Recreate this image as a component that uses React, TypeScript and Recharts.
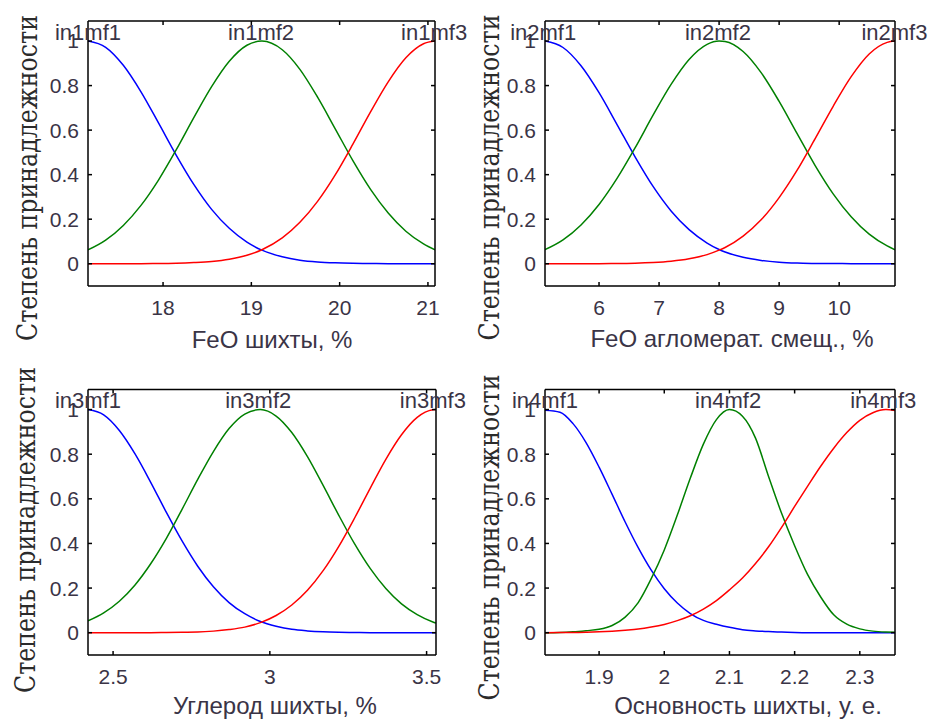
import React from "react";
import { LineChart, Line, XAxis, YAxis, ReferenceDot, Label } from "recharts";

const yTicks = [0, 0.2, 0.4, 0.6, 0.8, 1];
const yTitle = "Степень принадлежности";

// FeO шихты
const x1 = [17.15, 17.35, 17.55, 17.75, 17.95, 18.15, 18.35, 18.55, 18.75, 18.95, 19.12, 19.35, 19.55, 19.75, 19.95, 20.15, 20.35, 20.55, 20.75, 20.95, 21.08];
const in1mf1 = [1, 0.972, 0.891, 0.772, 0.631, 0.487, 0.355, 0.244, 0.159, 0.097, 0.061, 0.031, 0.016, 0.008, 0.004, 0.002, 0.001, 0, 0, 0, 0];
const in1mf2 = [0.062, 0.106, 0.172, 0.262, 0.377, 0.512, 0.657, 0.795, 0.909, 0.981, 1, 0.961, 0.873, 0.748, 0.606, 0.463, 0.334, 0.228, 0.146, 0.089, 0.062];
const in1mf3 = [0, 0, 0, 0, 0.001, 0.002, 0.005, 0.01, 0.02, 0.038, 0.063, 0.116, 0.186, 0.28, 0.399, 0.537, 0.682, 0.817, 0.925, 0.988, 1];
const ticks1 = [18, 19, 20, 21];
const names1 = ["in1mf1", "in1mf2", "in1mf3"];
const peaks1 = [17.15, 19.11, 21.07];

// FeO агломерат
const x2 = [5.1, 5.4, 5.7, 6.0, 6.3, 6.6, 6.9, 7.2, 7.5, 7.8, 8.0, 8.1, 8.4, 8.7, 9.0, 9.3, 9.6, 9.9, 10.2, 10.5, 10.8, 10.93];
const in2mf1 = [1, 0.971, 0.889, 0.768, 0.625, 0.48, 0.347, 0.237, 0.153, 0.093, 0.064, 0.053, 0.029, 0.015, 0.007, 0.003, 0.001, 0.001, 0, 0, 0, 0];
const in2mf2 = [0.063, 0.107, 0.174, 0.266, 0.383, 0.52, 0.667, 0.805, 0.917, 0.985, 1, 0.998, 0.953, 0.858, 0.729, 0.584, 0.441, 0.314, 0.211, 0.133, 0.08, 0.063];
const in2mf3 = [0, 0, 0, 0, 0.001, 0.002, 0.005, 0.011, 0.022, 0.041, 0.061, 0.073, 0.124, 0.197, 0.297, 0.42, 0.562, 0.707, 0.84, 0.942, 0.994, 1];
const ticks2 = [6, 7, 8, 9, 10];
const names2 = ["in2mf1", "in2mf2", "in2mf3"];
const peaks2 = [5.07, 7.98, 10.92];

// Углерод шихты
const x3 = [2.42, 2.47, 2.52, 2.57, 2.62, 2.67, 2.72, 2.77, 2.82, 2.87, 2.92, 2.97, 3.02, 3.07, 3.12, 3.17, 3.22, 3.27, 3.32, 3.37, 3.42, 3.47, 3.52, 3.53];
const in3mf1 = [1, 0.976, 0.906, 0.801, 0.674, 0.539, 0.411, 0.298, 0.206, 0.135, 0.085, 0.05, 0.029, 0.015, 0.008, 0.004, 0.002, 0.001, 0, 0, 0, 0, 0, 0];
const in3mf2 = [0.053, 0.089, 0.141, 0.214, 0.309, 0.423, 0.553, 0.687, 0.812, 0.915, 0.98, 1, 0.971, 0.897, 0.789, 0.66, 0.526, 0.399, 0.288, 0.198, 0.129, 0.081, 0.048, 0.043];
const in3mf3 = [0, 0, 0, 0, 0, 0.001, 0.002, 0.003, 0.007, 0.014, 0.025, 0.045, 0.077, 0.124, 0.19, 0.278, 0.387, 0.513, 0.647, 0.777, 0.887, 0.965, 0.999, 1];
const ticks3 = [2.5, 3, 3.5];
const names3 = ["in3mf1", "in3mf2", "in3mf3"];
const peaks3 = [2.42, 2.963, 3.52];

// Основность шихты
const x4 = [1.817, 1.84, 1.86, 1.88, 1.9, 1.92, 1.94, 1.96, 1.98, 2.0, 2.02, 2.04, 2.06, 2.08, 2.1, 2.12, 2.14, 2.16, 2.18, 2.2, 2.22, 2.24, 2.26, 2.28, 2.3, 2.32, 2.34, 2.354];
const in4mf1 = [0.997, 0.988, 0.937, 0.852, 0.742, 0.62, 0.496, 0.381, 0.28, 0.197, 0.133, 0.086, 0.055, 0.038, 0.024, 0.013, 0.008, 0.005, 0.003, 0.001, 0, 0, 0, 0, 0, 0, 0, 0];
const in4mf2 = [0, 0.001, 0.004, 0.009, 0.015, 0.032, 0.07, 0.135, 0.242, 0.371, 0.527, 0.693, 0.845, 0.955, 1, 0.97, 0.872, 0.7, 0.535, 0.39, 0.26, 0.16, 0.08, 0.038, 0.017, 0.007, 0.003, 0.002];
const in4mf3 = [0, 0.001, 0.001, 0.002, 0.004, 0.007, 0.011, 0.016, 0.025, 0.037, 0.054, 0.076, 0.106, 0.144, 0.192, 0.245, 0.31, 0.385, 0.472, 0.566, 0.657, 0.746, 0.827, 0.897, 0.952, 0.986, 1, 0.996];
const ticks4 = [1.9, 2, 2.1, 2.2, 2.3];
const names4 = ["in4mf1", "in4mf2", "in4mf3"];
const peaks4 = [1.817, 2.098, 2.336];

const colors = ["#0000ff", "#008000", "#ff0000"];
const textColor = "#3a3446";
const sans = '"Liberation Sans", Arial, sans-serif';

type PanelProps = {
  left: number;
  top: number;
  width: number;
  height: number;
  box: number[]; // left, top, right, bottom of the plot frame
  xs: number[];
  mfs: number[][];
  names: string[];
  peaks: number[];
  domain: [number, number];
  ticks: number[];
  xTitle: string;
  xTitlePos: number[];
  yTitlePos: number[];
};

function Panel(p: PanelProps) {
  const data = p.xs.map((x, i) => ({ x, mf1: p.mfs[0][i], mf2: p.mfs[1][i], mf3: p.mfs[2][i] }));
  const [L, T, R, B] = p.box;
  const axisStyle = { stroke: "#000", strokeWidth: 1.5 };
  const [yx, yy] = p.yTitlePos;
  // top / right axes only draw the frame and inner ticks; they need a size of 1px to render
  return (
    <div style={{ position: "absolute", left: p.left, top: p.top }}>
      <LineChart
        width={p.width}
        height={p.height}
        data={data}
        margin={{ top: T - 1, right: p.width - R - 1, bottom: 0, left: L - 60 }}
      >
        <XAxis
          type="number"
          dataKey="x"
          domain={p.domain}
          ticks={p.ticks}
          allowDataOverflow
          height={p.height - B}
          axisLine={axisStyle}
          tickLine={axisStyle}
          tickSize={-4}
          tickMargin={18}
          tick={{ fill: textColor, fontSize: 21, fontFamily: sans }}
        >
          <Label
            content={() => (
              <text
                x={p.xTitlePos[0]}
                y={p.xTitlePos[1]}
                textAnchor="middle"
                fill={textColor}
                fontSize={24}
                fontFamily={sans}
              >
                {p.xTitle}
              </text>
            )}
          />
        </XAxis>
        <XAxis
          xAxisId="top"
          orientation="top"
          type="number"
          dataKey="x"
          domain={p.domain}
          ticks={p.ticks}
          allowDataOverflow
          height={1}
          axisLine={axisStyle}
          tickLine={axisStyle}
          tickSize={-4}
          tickFormatter={() => ""}
        />
        <YAxis
          type="number"
          domain={[-0.1, 1.09]}
          ticks={yTicks}
          allowDataOverflow
          width={60}
          axisLine={axisStyle}
          tickLine={axisStyle}
          tickSize={-4}
          tickMargin={13}
          tick={{ fill: textColor, fontSize: 21, fontFamily: sans }}
        >
          <Label
            content={() => (
              <text
                x={yx}
                y={yy}
                transform={`rotate(-90 ${yx} ${yy})`}
                textAnchor="middle"
                fill="#2b2b2b"
                fontSize={27}
                fontFamily='"DejaVu Serif", serif'
                textLength={326}
                lengthAdjust="spacingAndGlyphs"
              >
                {yTitle}
              </text>
            )}
          />
        </YAxis>
        <YAxis
          yAxisId="right"
          orientation="right"
          type="number"
          domain={[-0.1, 1.09]}
          ticks={yTicks}
          allowDataOverflow
          width={1}
          axisLine={axisStyle}
          tickLine={axisStyle}
          tickSize={-4}
          tickFormatter={() => ""}
        />
        {["mf1", "mf2", "mf3"].map((k, i) => (
          <Line
            key={k}
            type="monotone"
            dataKey={k}
            stroke={colors[i]}
            strokeWidth={1.5}
            dot={false}
            activeDot={false}
            isAnimationActive={false}
          />
        ))}
        {p.names.map((n, i) => (
          <ReferenceDot
            key={n}
            x={p.peaks[i]}
            y={1.04}
            r={0}
            fill="none"
            stroke="none"
            ifOverflow="visible"
            label={{ value: n, position: "center", fill: textColor, fontSize: 22, fontFamily: sans }}
          />
        ))}
      </LineChart>
    </div>
  );
}

export default function App() {
  return (
    <div style={{ position: "absolute", left: 0, top: 0, width: 932, height: 721, background: "#fff" }}>
      <Panel
        left={0}
        top={0}
        width={470}
        height={360}
        box={[88, 21, 435, 286]}
        xs={x1}
        mfs={[in1mf1, in1mf2, in1mf3]}
        names={names1}
        peaks={peaks1}
        domain={[17.15, 21.08]}
        ticks={ticks1}
        xTitle="FeO шихты, %"
        xTitlePos={[272, 348]}
        yTitlePos={[37, 178]}
      />
      <Panel
        left={466}
        top={0}
        width={466}
        height={360}
        box={[79, 21, 429, 286]}
        xs={x2}
        mfs={[in2mf1, in2mf2, in2mf3]}
        names={names2}
        peaks={peaks2}
        domain={[5.1, 10.93]}
        ticks={ticks2}
        xTitle="FeO агломерат. смещ., %"
        xTitlePos={[266, 347]}
        yTitlePos={[33, 177.5]}
      />
      <Panel
        left={0}
        top={360}
        width={470}
        height={361}
        box={[88, 29.5, 436, 295]}
        xs={x3}
        mfs={[in3mf1, in3mf2, in3mf3]}
        names={names3}
        peaks={peaks3}
        domain={[2.42, 3.53]}
        ticks={ticks3}
        xTitle="Углерод шихты, %"
        xTitlePos={[275, 354]}
        yTitlePos={[35, 170]}
      />
      <Panel
        left={466}
        top={360}
        width={466}
        height={361}
        box={[79, 29.5, 429, 295]}
        xs={x4}
        mfs={[in4mf1, in4mf2, in4mf3]}
        names={names4}
        peaks={peaks4}
        domain={[1.817, 2.354]}
        ticks={ticks4}
        xTitle="Основность шихты, у. е."
        xTitlePos={[282, 354]}
        yTitlePos={[33, 177.5]}
      />
    </div>
  );
}
